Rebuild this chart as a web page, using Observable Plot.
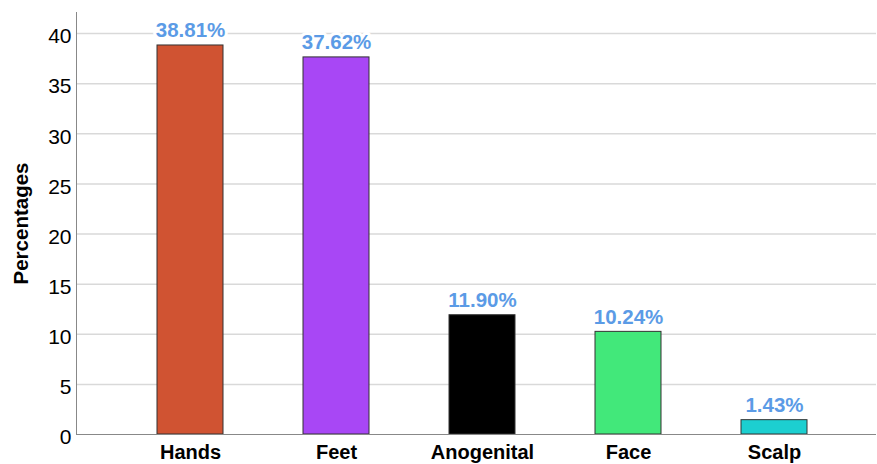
<!DOCTYPE html>
<html>
<head>
<meta charset="utf-8">
<script src="https://cdn.jsdelivr.net/npm/d3@7"></script>
<script src="https://cdn.jsdelivr.net/npm/@observablehq/plot@0.6"></script>
<style>
  html, body { margin: 0; padding: 0; background: #fff; }
</style>
</head>
<body>
<div id="chart"></div>
<script>
const categories = ["Hands", "Feet", "Anogenital", "Face", "Scalp"];
const values = [38.81, 37.62, 11.90, 10.24, 1.43];
const colors = ["#d05332", "#a847f5", "#000000", "#42e87a", "#1ccfd0"];
const yTicks = [0, 5, 10, 15, 20, 25, 30, 35, 40];
const yLabel = "Percentages";

const data = categories.map((c, i) => ({category: c, value: values[i], color: colors[i]}));

const chart = Plot.plot({
  width: 877,
  height: 464,
  marginLeft: 76,
  marginRight: 1,
  marginTop: 12,
  marginBottom: 30,
  style: {fontFamily: "'Liberation Sans', Arial, sans-serif", fontSize: "20px", color: "#000", background: "#fff"},
  x: {domain: categories, range: [117, 848], paddingInner: 0.545, paddingOuter: 0.2725, label: null},
  y: {domain: [0, 42.1], label: null},
  marks: [
    Plot.ruleY(yTicks.filter(t => t > 0), {stroke: "#d9d9d9", strokeWidth: 1.5}),
    Plot.barY(data, {x: "category", y: "value", fill: "color", stroke: "#333", strokeWidth: 1}),
    Plot.text(data, {
      x: "category", y: "value",
      text: d => d.value.toFixed(2) + "%",
      lineAnchor: "bottom", dy: -8,
      fill: "#5b9be6", stroke: "white", strokeWidth: 6,
      fontWeight: "bold", fontSize: 20.5
    }),
    Plot.axisY({ticks: yTicks, tickSize: 0, tickPadding: 5, dy: 3, fontSize: 21, label: null}),
    Plot.axisX({tickSize: 0, tickPadding: 10, fontSize: 20, fontWeight: "bold", label: null}),
    Plot.ruleY([0], {stroke: "#888", strokeWidth: 1}),
    Plot.frame({anchor: "left", stroke: "#888", strokeWidth: 1}),
    Plot.text([yLabel], {frameAnchor: "left", textAnchor: "middle", dx: -55, rotate: -90, fontWeight: "bold", fontSize: 20.5, fill: "#000"})
  ]
});
document.getElementById("chart").appendChild(chart);
</script>
</body>
</html>
